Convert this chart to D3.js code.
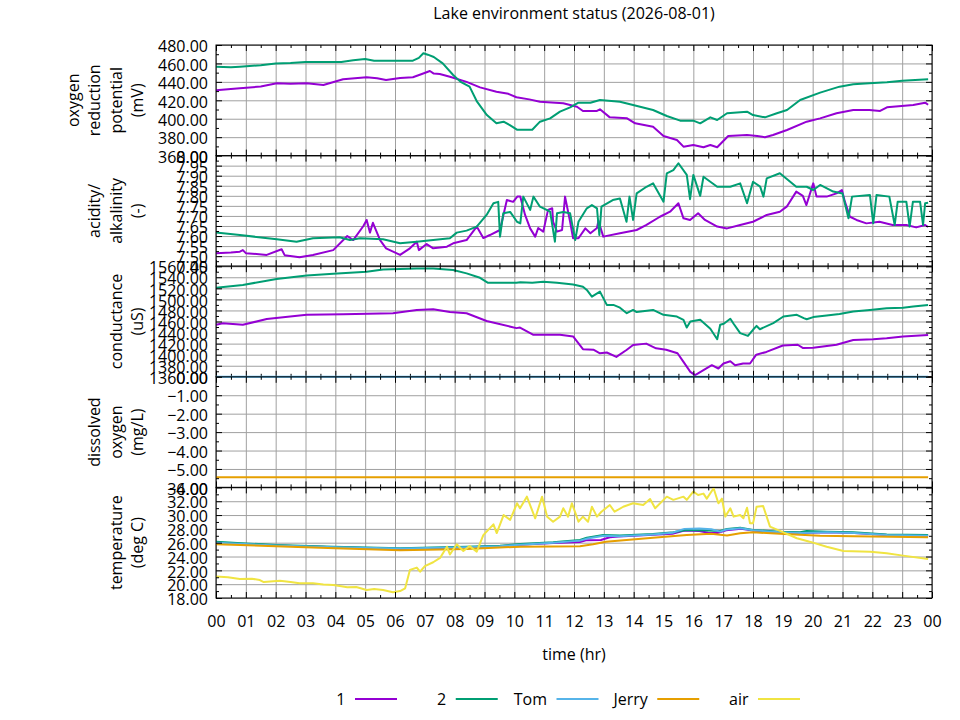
<!DOCTYPE html>
<html>
<head>
<meta charset="utf-8">
<title>Lake environment status</title>
<script src="https://cdn.jsdelivr.net/npm/d3@7"></script>
<style>
  body{margin:0;background:#fff;}
  svg text{font-family:"Open Sans",sans-serif;font-size:16px;fill:#000;}
  .grid line{stroke:#a0a0a0;stroke-width:1;}
  .tk line{stroke:#000;stroke-width:1;}
  .series{fill:none;stroke-width:2;stroke-linejoin:round;}
</style>
</head>
<body>
<div id="chart"></div>
<script>
// ---- data (hour of day, value) ----
var seriesNames = ["1", "2", "Tom", "Jerry", "air"];
var seriesColors = ["#9400d3", "#009e73", "#56b4e9", "#e69f00", "#f0e442"];

var hourTicks = d3.range(0, 25);
var hourLabels = ["00","01","02","03","04","05","06","07","08","09","10","11",
                  "12","13","14","15","16","17","18","19","20","21","22","23","00"];

var orpTicks = [360, 380, 400, 420, 440, 460, 480];
var phTicks = [7.45, 7.50, 7.55, 7.60, 7.65, 7.70, 7.75, 7.80, 7.85, 7.90, 7.95, 8.00];
var condTicks = [1360, 1380, 1400, 1420, 1440, 1460, 1480, 1500, 1520, 1540, 1560];
var doTicks = [-6, -5, -4, -3, -2, -1, 0];
var tempTicks = [18, 20, 22, 24, 26, 28, 30, 32, 34];

var orp1 = [[0,431],[0.4,432],[0.8,433],[1.5,435],[2.04,438.4],[2.5,438],[3.04,438.4],[3.6,436.6],[4.26,442.8],[5.05,445],[5.4,444],[5.7,442],[6.17,444.2],[6.6,445],[6.9,448.5],[7.17,451.8],[7.3,449],[7.5,448.5],[7.84,445.6],[8.4,440],[8.85,434],[9.4,429.3],[9.8,427],[10.07,423.3],[10.5,421],[10.86,418.5],[11.64,416.7],[12.1,413],[12.3,408.4],[12.77,408.4],[12.87,410.2],[13.2,401.5],[13.78,400.4],[14.05,395],[14.65,391.4],[15.0,381.3],[15.45,377],[15.67,369.7],[16.0,371.5],[16.34,369],[16.57,371.5],[16.8,369],[17.17,381.3],[17.8,382.3],[18.14,381.3],[18.4,380],[18.67,382.3],[19.14,387.8],[19.8,396.8],[20.25,400.4],[20.8,405.9],[21.36,409.5],[21.9,409.5],[22.26,408.4],[22.49,412.4],[23.37,414.9],[23.77,417.4],[23.87,415.2]];
var orp2 = [[0,456.5],[0.5,455.8],[0.8,456.5],[1.5,458],[2.0,460],[2.5,460.5],[3.0,461.5],[4.2,461.5],[4.6,463.5],[5.0,464.8],[5.3,463],[6.6,463],[6.8,466],[6.95,471],[7.1,469.5],[7.3,467],[7.6,460],[7.95,447.5],[8.2,440],[8.5,434.8],[8.75,418.5],[9.08,404],[9.4,395],[9.64,396.8],[9.85,393],[10.1,388],[10.6,388],[10.86,396.8],[11.2,400.4],[11.53,407.7],[11.87,412.4],[12.15,417.4],[12.55,417.4],[12.87,420.3],[13.54,418.5],[13.98,414.9],[14.65,409.5],[15.11,403],[15.56,397.9],[16.0,397.9],[16.23,395],[16.57,401.5],[16.8,398.6],[17.13,405.9],[17.8,407.7],[18.0,404],[18.4,401.5],[18.8,406],[19.14,409.5],[19.58,420.3],[20.25,428.3],[20.9,434.8],[21.36,437.4],[21.9,438.4],[22.49,439.5],[23.0,441.3],[23.87,442.8]];

var ph1 = [[0,7.514],[0.5,7.518],[0.8,7.522],[0.9,7.53],[1.0,7.515],[1.7,7.506],[2.2,7.534],[2.3,7.505],[2.8,7.494],[3.25,7.506],[3.93,7.53],[4.4,7.6],[4.6,7.58],[4.94,7.65],[5.05,7.68],[5.16,7.617],[5.26,7.666],[5.5,7.58],[5.7,7.539],[6.17,7.506],[6.5,7.539],[6.73,7.572],[6.8,7.53],[7.06,7.56],[7.28,7.539],[7.74,7.547],[7.95,7.564],[8.4,7.58],[8.74,7.647],[8.96,7.59],[9.18,7.605],[9.52,7.63],[9.75,7.779],[9.96,7.77],[10.1,7.796],[10.2,7.796],[10.36,7.705],[10.53,7.638],[10.7,7.597],[10.8,7.64],[10.97,7.622],[11.13,7.73],[11.27,7.738],[11.3,7.671],[11.43,7.622],[11.6,7.63],[11.7,7.796],[11.87,7.671],[11.97,7.589],[12.15,7.589],[12.38,7.638],[12.55,7.614],[12.77,7.64],[12.82,7.676],[12.98,7.597],[13.54,7.614],[14.1,7.63],[14.43,7.655],[14.88,7.696],[15.22,7.721],[15.5,7.763],[15.67,7.688],[15.89,7.68],[16.16,7.713],[16.39,7.68],[16.8,7.647],[17.13,7.638],[17.57,7.655],[18.0,7.671],[18.46,7.705],[18.9,7.721],[19.13,7.746],[19.45,7.821],[19.67,7.80],[19.79,7.754],[20.02,7.862],[20.13,7.796],[20.47,7.796],[20.8,7.812],[20.98,7.829],[21.08,7.771],[21.25,7.696],[21.47,7.68],[21.8,7.663],[22.24,7.671],[22.68,7.655],[23.14,7.655],[23.47,7.643],[23.77,7.655],[23.87,7.645]];
var ph2 = [[0,7.617],[0.8,7.605],[2.04,7.584],[2.7,7.572],[3.25,7.589],[4.14,7.594],[4.49,7.58],[4.83,7.589],[5.6,7.584],[6.17,7.564],[6.73,7.572],[7.28,7.58],[7.84,7.589],[8.07,7.617],[8.4,7.627],[8.74,7.647],[9.07,7.705],[9.3,7.763],[9.46,7.77],[9.52,7.597],[9.63,7.713],[9.86,7.72],[10.09,7.671],[10.2,7.663],[10.3,7.796],[10.53,7.73],[10.64,7.796],[10.86,7.746],[11.2,7.721],[11.36,7.572],[11.43,7.713],[11.64,7.72],[11.87,7.713],[12.04,7.58],[12.15,7.671],[12.43,7.738],[12.6,7.754],[12.77,7.738],[12.85,7.605],[12.92,7.746],[13.3,7.779],[13.54,7.787],[13.76,7.671],[13.86,7.796],[13.98,7.68],[14.1,7.812],[14.43,7.845],[14.65,7.862],[15.0,7.771],[15.11,7.912],[15.33,7.928],[15.5,7.962],[15.78,7.904],[15.89,7.783],[16.0,7.904],[16.23,7.80],[16.34,7.895],[16.8,7.845],[17.24,7.845],[17.57,7.862],[17.8,7.763],[18.0,7.87],[18.24,7.846],[18.35,7.796],[18.46,7.887],[18.9,7.912],[19.45,7.845],[19.8,7.845],[20.02,7.829],[20.25,7.854],[20.69,7.821],[21.0,7.812],[21.2,7.688],[21.32,7.796],[21.92,7.804],[22.03,7.663],[22.14,7.804],[22.57,7.796],[22.75,7.655],[22.85,7.771],[23.14,7.771],[23.25,7.647],[23.36,7.771],[23.6,7.771],[23.7,7.655],[23.77,7.763],[23.87,7.765]];

var cond1 = [[0,1454],[0.23,1457],[0.9,1454],[1.7,1464.5],[3.04,1472],[4.26,1473],[5.93,1475],[6.73,1481],[7.28,1482],[7.84,1477],[8.4,1475],[9.07,1461],[10.07,1448],[10.19,1449],[10.64,1436],[11.53,1436],[11.97,1433],[12.3,1410],[12.65,1409],[12.87,1402.5],[13.1,1404],[13.42,1396],[13.76,1408.5],[13.98,1417.5],[14.42,1420],[14.75,1411.5],[15.09,1409],[15.47,1402.5],[15.67,1387],[15.9,1369],[16.06,1363],[16.34,1372],[16.62,1381],[16.84,1375],[17.01,1384],[17.24,1388],[17.4,1381],[17.67,1384],[17.9,1384],[18.11,1400],[18.45,1405],[19.0,1416.5],[19.5,1418],[19.68,1412],[20.02,1412.5],[20.8,1418],[21.36,1426.5],[22.03,1428],[22.48,1429.6],[23.03,1433],[23.87,1435.6]];
var cond2 = [[0,1521],[0.9,1526],[2.03,1537],[3.04,1543],[3.93,1546.5],[5.05,1550],[5.6,1554],[6.73,1556],[7.28,1556],[7.95,1553],[8.4,1547],[8.85,1539],[9.12,1530],[10.07,1530],[10.2,1531],[10.6,1530],[10.97,1532],[11.43,1530],[11.97,1527],[12.3,1523],[12.43,1517],[12.6,1505],[12.87,1514],[13.1,1490],[13.32,1490],[13.54,1485],[13.77,1475],[13.98,1481],[14.1,1477],[14.65,1481],[15.0,1472],[15.45,1469],[15.67,1463],[15.78,1449],[15.9,1460],[16.23,1463],[16.57,1447],[16.8,1428],[16.9,1454],[17.02,1456],[17.24,1465],[17.35,1456],[17.57,1439],[17.83,1434],[18.0,1445],[18.12,1452],[18.23,1446],[18.68,1457],[19.02,1469],[19.47,1472],[19.7,1466],[19.8,1464],[20.02,1468],[20.47,1471],[20.9,1473.6],[21.36,1478],[21.92,1481],[22.48,1484],[23.03,1485],[23.37,1487],[23.87,1490]];

var doTom = [[0,0],[23.87,0]];
var doJerry = [[0,-5.45],[23.87,-5.45]];

var temp1 = [[0,25.95],[2,25.6],[4,25.35],[6.2,25.1],[8.4,25.35],[9.5,25.5],[10.2,25.7],[11.3,25.95],[12.2,26.1],[12.4,26.35],[12.9,26.4],[13.2,26.8],[13.5,26.9],[14.65,27.15],[15.3,27.3],[15.7,27.75],[16.2,27.7],[16.5,27.45],[16.8,27.4],[17.1,27.8],[17.6,28.0],[18,27.75],[18.9,27.5],[19.6,27.4],[20.5,27.5],[21.4,27.4],[22.5,27.1],[23.87,27.0]];
var temp2 = [[0,26.15],[1,25.9],[2.03,25.67],[3.93,25.42],[6.17,25.19],[8.4,25.42],[9.52,25.57],[10.2,25.8],[11.3,26.06],[12.2,26.4],[12.43,26.72],[12.98,27.11],[13.54,27.05],[14.65,27.26],[15.33,27.5],[15.78,27.84],[16.45,27.75],[16.9,27.7],[17.13,27.98],[17.57,28.17],[18.0,27.84],[18.9,27.6],[19.58,27.5],[19.8,27.7],[20.47,27.6],[21.36,27.5],[22.48,27.2],[23.87,27.11]];
var tempTom = [[0,26.0],[2,25.6],[4,25.35],[6.2,25.15],[8.4,25.35],[9.5,25.5],[10.2,25.7],[11.3,26.0],[12.2,26.3],[12.45,26.6],[13,27.0],[13.5,26.95],[14.65,27.2],[15.3,27.45],[15.7,28.0],[16.2,28.05],[16.6,27.95],[16.9,27.6],[17.1,27.9],[17.6,28.1],[18,27.8],[18.9,27.5],[19.6,27.4],[20.5,27.5],[21.4,27.4],[22.5,27.1],[23.87,27.0]];
var tempJerry = [[0,25.77],[2,25.5],[4,25.2],[6.17,24.9],[8.4,25.09],[9.5,25.3],[10.2,25.42],[11.3,25.45],[12.2,25.5],[12.64,25.77],[13.07,26.15],[13.76,26.39],[14.65,26.72],[15.78,27.11],[16.6,27.3],[17.13,27.05],[17.57,27.36],[18.0,27.5],[18.9,27.3],[20.25,27.0],[21.36,26.95],[23.87,26.78]];
var tempAir = [[0,21.1],[0.4,21.0],[0.8,20.75],[1.2,20.8],[1.47,20.6],[1.6,20.3],[2.14,20.5],[2.5,20.3],[2.8,20.13],[3.25,20.13],[3.6,19.95],[3.93,19.88],[4.2,19.7],[4.4,19.55],[4.7,19.6],[5.05,19.16],[5.3,19.3],[5.6,19.16],[5.93,18.82],[6.17,19.0],[6.34,19.4],[6.5,22.05],[6.73,22.4],[6.84,21.8],[7.0,22.6],[7.28,23.17],[7.51,23.8],[7.74,25.42],[7.84,24.3],[8.07,25.77],[8.29,24.8],[8.5,25.5],[8.74,24.7],[8.96,27.1],[9.18,28.1],[9.3,28.66],[9.41,27.4],[9.64,30.0],[9.86,29.3],[10.09,31.7],[10.19,30.98],[10.42,32.66],[10.7,29.53],[10.93,32.66],[11.1,29.77],[11.3,29.04],[11.53,29.77],[11.64,30.98],[11.8,29.77],[11.93,31.7],[12.15,29.04],[12.3,29.77],[12.47,29.04],[12.6,31.2],[12.77,29.77],[12.92,30.48],[13.2,31.45],[13.36,30.48],[13.65,31.2],[13.98,31.7],[14.32,31.45],[14.55,32.32],[14.72,30.98],[15.11,32.66],[15.33,32.2],[15.67,32.66],[15.78,32.2],[16.0,33.38],[16.16,32.9],[16.34,33.1],[16.45,32.37],[16.68,33.87],[16.84,31.7],[16.96,32.37],[17.07,29.77],[17.24,30.98],[17.35,29.77],[17.57,30.0],[17.68,29.53],[17.8,31.06],[17.9,28.8],[18.0,28.8],[18.12,31.2],[18.34,31.3],[18.57,28.32],[19.02,27.5],[19.47,26.64],[19.9,26.15],[20.47,25.42],[21.03,24.8],[21.93,24.7],[22.48,24.47],[23.03,24.13],[23.87,23.64]];

var panelLabels = [["oxygen","reduction","potential","(mV)"],["acidity/","alkalinity","(-)"],
                   ["conductance","(uS)"],["dissolved","oxygen","(mg/L)"],["temperature","(deg C)"]];
var panelTicks = [orpTicks, phTicks, condTicks, doTicks, tempTicks];
var panelSeries = [
  [["1", orp1], ["2", orp2]],
  [["1", ph1], ["2", ph2]],
  [["1", cond1], ["2", cond2]],
  [["Tom", doTom], ["Jerry", doJerry]],
  [["1", temp1], ["2", temp2], ["Tom", tempTom], ["Jerry", tempJerry], ["air", tempAir]]
];

// ---- layout ----
var W = 960, H = 720;
var left = 216, right = 932, top0 = 45, ph = 110.6;
var color = d3.scaleOrdinal().domain(seriesNames).range(seriesColors);

var svg = d3.select("#chart").append("svg").attr("width", W).attr("height", H);

var x = d3.scaleLinear().domain([0, 24]).range([left, right]);
var halfHours = d3.range(0.5, 24, 1);

svg.append("text").attr("x", (left + right) / 2).attr("y", 19)
  .attr("text-anchor", "middle").text("Lake environment status (2026-08-01)");

function noDomain(g){ g.select(".domain").remove(); }

panelTicks.forEach(function(ticks, i){
  var py = top0 + i * ph, pb = py + ph;
  var step = ticks[1] - ticks[0];
  var minor = ticks.slice(0, -1).map(function(t){ return t + step / 2; });
  var y = d3.scaleLinear().domain([ticks[0], ticks[ticks.length - 1]]).range([pb, py]);
  var g = svg.append("g");

  // grid
  g.append("g").attr("class", "grid").attr("transform", "translate(0," + pb + ")")
    .call(d3.axisBottom(x).tickValues(hourTicks).tickSize(-ph).tickFormat("")).call(noDomain);
  g.append("g").attr("class", "grid").attr("transform", "translate(" + left + ",0)")
    .call(d3.axisLeft(y).tickValues(ticks).tickSize(-(right - left)).tickFormat("")).call(noDomain);

  // series
  var clipId = "clip" + i;
  svg.append("clipPath").attr("id", clipId).append("rect")
    .attr("x", left).attr("y", py - 2).attr("width", right - left).attr("height", ph + 4);
  var line = d3.line().x(function(d){ return x(d[0]); }).y(function(d){ return y(d[1]); });
  g.append("g").attr("clip-path", "url(#" + clipId + ")")
    .selectAll("path").data(panelSeries[i]).join("path")
    .attr("class", "series")
    .attr("stroke", function(d){ return color(d[0]); })
    .attr("d", function(d){ return line(d[1]); });

  // ticks, inward on all four sides
  var ya = g.append("g").attr("class", "tk").attr("transform", "translate(" + left + ",0)")
    .call(d3.axisLeft(y).tickValues(ticks).tickSize(-6).tickPadding(8).tickFormat(d3.format(".2f"))).call(noDomain);
  ya.selectAll("text").attr("dy", "0.42em");
  g.append("g").attr("class", "tk").attr("transform", "translate(" + left + ",0)")
    .call(d3.axisLeft(y).tickValues(minor).tickSize(-3).tickFormat("")).call(noDomain);
  g.append("g").attr("class", "tk").attr("transform", "translate(" + right + ",0)")
    .call(d3.axisRight(y).tickValues(ticks).tickSize(-6).tickFormat("")).call(noDomain);
  g.append("g").attr("class", "tk").attr("transform", "translate(" + right + ",0)")
    .call(d3.axisRight(y).tickValues(minor).tickSize(-3).tickFormat("")).call(noDomain);
  g.append("g").attr("class", "tk").attr("transform", "translate(0," + py + ")")
    .call(d3.axisTop(x).tickValues(hourTicks).tickSize(-6).tickFormat("")).call(noDomain);
  g.append("g").attr("class", "tk").attr("transform", "translate(0," + py + ")")
    .call(d3.axisTop(x).tickValues(halfHours).tickSize(-3).tickFormat("")).call(noDomain);
  var last = i === panelTicks.length - 1;
  g.append("g").attr("class", "tk").attr("transform", "translate(0," + pb + ")")
    .call(d3.axisBottom(x).tickValues(hourTicks).tickSize(-6).tickPadding(18)
      .tickFormat(last ? function(d, k){ return hourLabels[k]; } : "")).call(noDomain);
  g.append("g").attr("class", "tk").attr("transform", "translate(0," + pb + ")")
    .call(d3.axisBottom(x).tickValues(halfHours).tickSize(-3).tickFormat("")).call(noDomain);

  g.append("rect").attr("x", left).attr("y", py).attr("width", right - left).attr("height", ph)
    .attr("fill", "none").attr("stroke", "#000").attr("stroke-width", 1);

  // rotated multi-line axis label
  var lines = panelLabels[i];
  lines.forEach(function(t, k){
    var bx = 143 - (lines.length - 1 - k) * 21.5;
    g.append("text").attr("text-anchor", "middle")
      .attr("transform", "translate(" + bx + "," + (py + ph / 2) + ") rotate(-90)")
      .text(t);
  });
});

svg.append("text").attr("x", (left + right) / 2).attr("y", 660)
  .attr("text-anchor", "middle").text("time (hr)");

// legend
var leg = svg.append("g").selectAll("g").data(seriesNames).join("g")
  .attr("transform", function(d, i){ return "translate(" + (355 + i * 100.75) + ",699)"; });
leg.append("text").attr("x", -9.5).attr("dy", "0.35em").attr("text-anchor", "end").text(function(d){ return d; });
leg.append("line").attr("x1", 0).attr("x2", 42).attr("stroke-width", 2)
  .attr("stroke", function(d){ return color(d); });
</script>
</body>
</html>
